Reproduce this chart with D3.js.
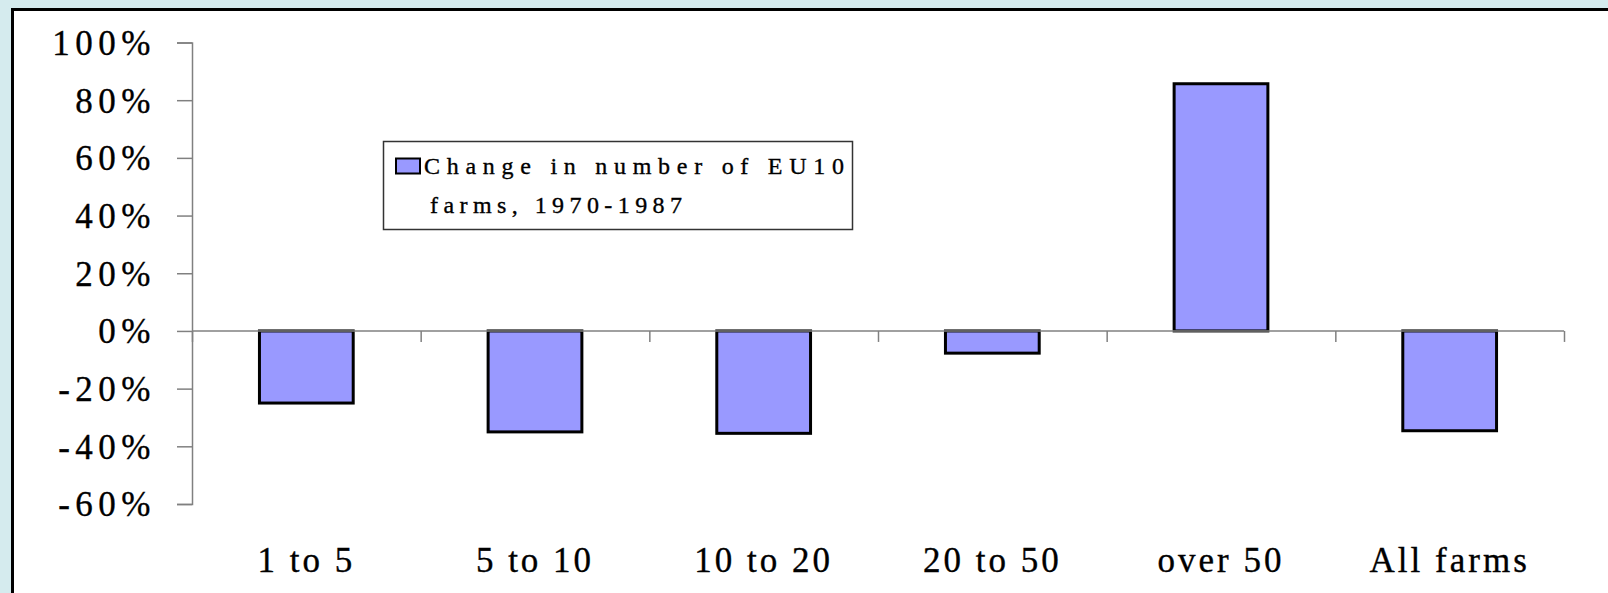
<!DOCTYPE html>
<html>
<head>
<meta charset="utf-8">
<script src="https://cdn.jsdelivr.net/npm/d3@7"></script>
<style>
  html, body { margin: 0; padding: 0; background: #d5ebee; }
  svg { display: block; }
  text { font-family: "Liberation Serif", "Times New Roman", serif; fill: #000; stroke: #000; stroke-width: 0.35px; }
</style>
</head>
<body>
<div id="chart"></div>
<script>
// Farm size classes (ha) and the change in farm count, 1970-1987
const categories = ["1 to 5", "5 to 10", "10 to 20", "20 to 50", "over 50", "All farms"];
const changeValues = [-0.25, -0.35, -0.355, -0.077, 0.857, -0.346];
const yTicks = [-0.6, -0.4, -0.2, 0, 0.2, 0.4, 0.6, 0.8, 1.0];
const legendLines = ["Change in number of EU10", "farms, 1970-1987"];

const width = 1608, height = 593;
const BAR_FILL = "#9999ff";
const AXIS_GREY = "#808080";

const svg = d3.select("#chart").append("svg")
  .attr("width", width)
  .attr("height", height);

// White panel with heavy border (runs off the right and bottom edges)
svg.append("rect")
  .attr("x", 12.5).attr("y", 9.5)
  .attr("width", width).attr("height", height)
  .attr("fill", "#fff")
  .attr("stroke", "#000")
  .attr("stroke-width", 3);

const plotLeft = 192, plotRight = 1564;

const x = d3.scaleBand()
  .domain(categories)
  .range([plotLeft, plotRight])
  .paddingInner(0.59)
  .paddingOuter(0.295);

const y = d3.scaleLinear()
  .domain([-0.6, 1.0])
  .range([504, 42.5]);

// Y axis
const yAxis = d3.axisLeft(y)
  .tickValues(yTicks)
  .tickSize(15)
  .tickPadding(21)
  .tickFormat(d => `${Math.round(d * 100)}%`);

const yAxisG = svg.append("g")
  .attr("transform", `translate(${plotLeft},0)`)
  .call(yAxis);
yAxisG.select(".domain").attr("stroke", AXIS_GREY).attr("stroke-width", 1.5);
yAxisG.selectAll(".tick line").attr("stroke", AXIS_GREY).attr("stroke-width", 1.5);
yAxisG.selectAll(".tick text")
  .attr("font-family", "Liberation Serif")
  .attr("font-size", 35)
  .attr("letter-spacing", 5.5)
  .attr("dy", "0.34em");

// Bars
svg.append("g").selectAll("rect.bar")
  .data(categories.map((c, i) => ({ cat: c, value: changeValues[i] })))
  .join("rect")
  .attr("class", "bar")
  .attr("x", d => x(d.cat))
  .attr("width", x.bandwidth())
  .attr("y", d => y(Math.max(0, d.value)))
  .attr("height", d => Math.abs(y(d.value) - y(0)))
  .attr("fill", BAR_FILL)
  .attr("stroke", "#000")
  .attr("stroke-width", 3);

// X axis line at zero with category boundary ticks
const boundaries = d3.range(categories.length + 1).map(i => plotLeft + i * x.step());
const xLine = d3.axisBottom(d3.scaleLinear().domain([plotLeft, plotRight]).range([plotLeft, plotRight]))
  .tickValues(boundaries)
  .tickSize(11)
  .tickFormat("");
const xAxisG = svg.append("g")
  .attr("transform", `translate(0,${y(0)})`)
  .call(xLine);
xAxisG.select(".domain").attr("stroke", AXIS_GREY).attr("stroke-width", 1.5)
  .attr("d", `M${plotLeft},0H${plotRight}`);
xAxisG.selectAll(".tick line").attr("stroke", AXIS_GREY).attr("stroke-width", 1.5);

// Category labels sit low, under the plot
const xLabels = d3.axisBottom(x).tickSize(0).tickPadding(0);
const xLabelG = svg.append("g")
  .attr("transform", `translate(0,572)`)
  .call(xLabels);
xLabelG.select(".domain").remove();
xLabelG.selectAll(".tick text")
  .attr("font-family", "Liberation Serif")
  .attr("font-size", 35)
  .attr("letter-spacing", 3)
  .attr("dy", 0);

// Legend
const legend = svg.append("g");
legend.append("rect")
  .attr("x", 383.5).attr("y", 141.5)
  .attr("width", 469).attr("height", 88)
  .attr("fill", "#fff")
  .attr("stroke", "#333")
  .attr("stroke-width", 1.5);
legend.append("rect")
  .attr("x", 396).attr("y", 158.5)
  .attr("width", 24).attr("height", 15)
  .attr("fill", BAR_FILL)
  .attr("stroke", "#000")
  .attr("stroke-width", 2);
legend.selectAll("text.legend-line")
  .data(legendLines)
  .join("text")
  .attr("class", "legend-line")
  .attr("x", (d, i) => i === 0 ? 424 : 430)
  .attr("y", (d, i) => i === 0 ? 174 : 213)
  .attr("font-size", 24)
  .attr("textLength", (d, i) => i === 0 ? 420 : 252)
  .attr("lengthAdjust", "spacing")
  .text(d => d);
</script>
</body>
</html>
